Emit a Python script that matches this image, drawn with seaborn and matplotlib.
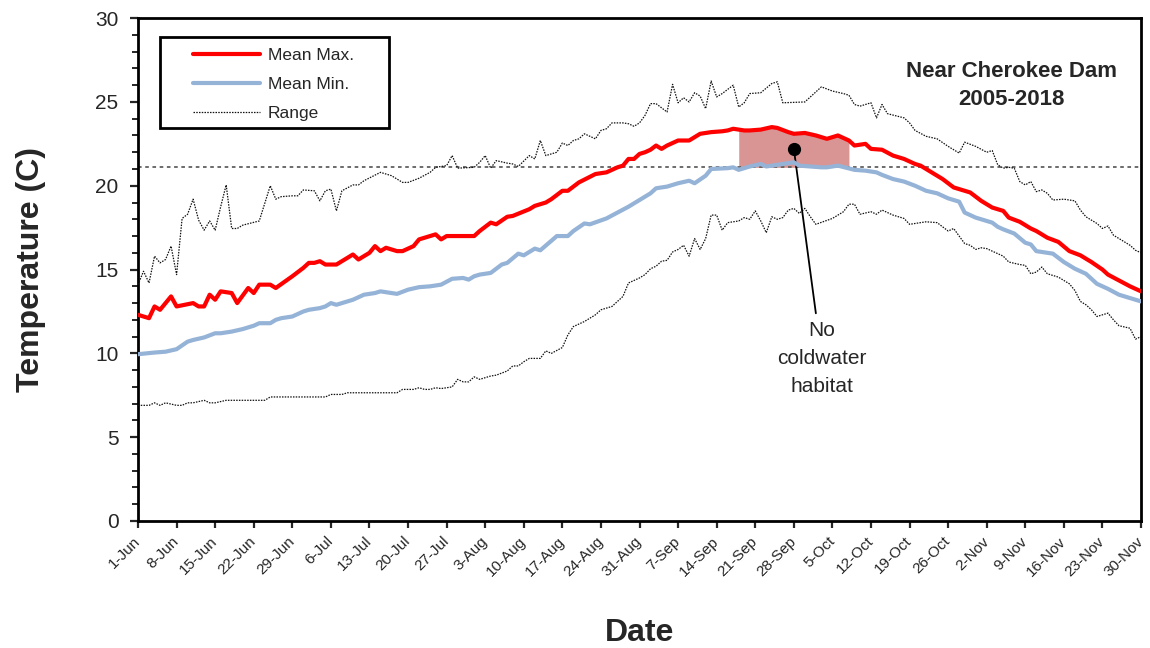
import numpy as np
import pandas as pd
import matplotlib
matplotlib.use("Agg")
import matplotlib.pyplot as plt
import seaborn as sns
from matplotlib.lines import Line2D
from matplotlib.patches import Rectangle

# Days counted from 1-Jun (day 0) to 30-Nov (day 182)
max_days = [0, 2, 3, 4, 6, 7, 10, 11, 12, 13, 14, 15, 17, 18, 20, 21, 22, 24, 25, 28,
            30, 31, 32, 33, 34, 36, 38, 39, 40, 42, 43, 44, 45, 47, 48, 50, 51, 54, 55, 56,
            59, 61, 62, 64, 65, 67, 68, 71, 72, 74, 75, 77, 78, 80, 83, 85, 87, 88, 89, 90,
            91, 92, 93, 94, 95, 96, 98, 100, 102, 104, 106, 107, 108, 110, 111, 113, 115, 116, 118, 119,
            121, 123, 125, 127, 129, 130, 132, 133, 135, 137, 139, 141, 142, 144, 146, 148, 151, 153, 155, 157,
            158, 160, 162, 163, 165, 167, 169, 171, 173, 175, 176, 178, 180, 182]
max_vals = [12.3, 12.1, 12.8, 12.6, 13.4, 12.8, 13.0, 12.8, 12.8, 13.5, 13.2, 13.7, 13.6, 13.0, 13.9, 13.6, 14.1, 14.1, 13.9, 14.6,
            15.1, 15.4, 15.4, 15.5, 15.3, 15.3, 15.7, 15.9, 15.6, 16.0, 16.4, 16.1, 16.3, 16.1, 16.1, 16.4, 16.8, 17.1, 16.8, 17.0,
            17.0, 17.0, 17.3, 17.8, 17.7, 18.15, 18.2, 18.6, 18.8, 19.0, 19.2, 19.7, 19.7, 20.2, 20.7, 20.8, 21.1, 21.2, 21.6, 21.6,
            21.9, 22.0, 22.15, 22.4, 22.2, 22.4, 22.7, 22.7, 23.1, 23.2, 23.25, 23.3, 23.4, 23.3, 23.3, 23.35, 23.5, 23.45, 23.2, 23.1,
            23.15, 23.0, 22.8, 23.0, 22.7, 22.4, 22.5, 22.2, 22.15, 21.8, 21.6, 21.3, 21.2, 20.8, 20.4, 19.9, 19.6, 19.1, 18.7, 18.5,
            18.1, 17.85, 17.45, 17.3, 16.9, 16.65, 16.1, 15.85, 15.45, 15.0, 14.7, 14.35, 14.0, 13.7]

min_days = [0, 3, 5, 7, 9, 10, 12, 14, 15, 17, 19, 21, 22, 24, 25, 26, 28, 30, 31, 33,
            34, 35, 36, 38, 39, 41, 43, 44, 47, 49, 51, 53, 55, 57, 59, 60, 61, 62, 64, 66,
            67, 69, 70, 72, 73, 76, 78, 79, 81, 82, 85, 87, 89, 91, 93, 94, 96, 98, 100, 101,
            103, 104, 107, 108, 109, 111, 113, 114, 116, 119, 120, 122, 124, 125, 127, 130, 132, 134, 135, 137,
            139, 141, 143, 145, 147, 149, 150, 152, 155, 156, 157, 159, 161, 162, 163, 166, 168, 170, 172, 174,
            176, 178, 180, 182]
min_vals = [9.95, 10.05, 10.1, 10.25, 10.7, 10.8, 10.95, 11.2, 11.2, 11.3, 11.45, 11.65, 11.8, 11.8, 12.0, 12.1, 12.2, 12.5, 12.6, 12.7,
            12.8, 13.0, 12.9, 13.1, 13.2, 13.5, 13.6, 13.7, 13.55, 13.8, 13.95, 14.0, 14.1, 14.45, 14.5, 14.4, 14.6, 14.7, 14.8, 15.3,
            15.4, 15.95, 15.85, 16.25, 16.15, 17.0, 17.0, 17.3, 17.75, 17.7, 18.05, 18.4, 18.75, 19.15, 19.55, 19.85, 19.95, 20.15, 20.3, 20.15,
            20.6, 21.0, 21.05, 21.1, 20.95, 21.15, 21.3, 21.15, 21.25, 21.4, 21.2, 21.15, 21.1, 21.1, 21.2, 20.95, 20.9, 20.8, 20.65, 20.4,
            20.25, 20.0, 19.7, 19.55, 19.25, 19.05, 18.4, 18.1, 17.8, 17.55, 17.4, 17.15, 16.6, 16.5, 16.1, 15.95, 15.45, 15.05, 14.75, 14.15,
            13.85, 13.5, 13.3, 13.1]

hi_days = [0, 1, 2, 3, 4, 5, 6, 7, 8, 9, 10, 11, 12, 13, 14, 15, 16, 17, 18, 19,
           22, 23, 24, 25, 26, 28, 29, 30, 32, 33, 34, 35, 36, 37, 39, 40, 41, 44, 46, 48,
           49, 51, 53, 54, 56, 57, 58, 61, 62, 63, 64, 65, 67, 68, 69, 71, 72, 73, 74, 76,
           77, 78, 79, 80, 81, 83, 84, 85, 86, 88, 89, 90, 91, 92, 93, 94, 96, 97, 98, 99,
           100, 101, 102, 103, 104, 105, 106, 108, 109, 110, 111, 113, 115, 116, 117, 121, 123, 124, 126, 128,
           129, 130, 131, 133, 134, 135, 136, 139, 140, 141, 143, 145, 147, 149, 150, 152, 154, 155, 156, 157,
           158, 159, 160, 161, 162, 163, 164, 165, 166, 168, 170, 171, 172, 174, 175, 176, 177, 178, 180, 181,
           182]
hi_vals = [14.1, 14.9, 14.2, 15.8, 15.4, 15.6, 16.4, 14.7, 18.05, 18.3, 19.2, 17.95, 17.35, 17.9, 17.35, 18.75, 20.05, 17.45, 17.45, 17.65,
           17.9, 18.95, 20.0, 19.2, 19.35, 19.4, 19.4, 19.75, 19.7, 19.1, 19.7, 19.8, 18.5, 19.7, 20.05, 20.05, 20.3, 20.8, 20.6, 20.2,
           20.2, 20.45, 20.8, 21.1, 21.2, 21.8, 21.05, 21.1, 21.4, 21.8, 21.05, 21.5, 21.35, 21.3, 21.15, 21.8, 21.6, 22.7, 21.8, 22.0,
           22.55, 22.4, 22.7, 22.8, 23.1, 22.8, 23.3, 23.4, 23.75, 23.75, 23.7, 23.55, 23.75, 24.2, 24.9, 24.9, 24.4, 26.05, 24.95, 25.25,
           25.0, 25.55, 25.35, 24.6, 26.25, 25.3, 25.5, 26.0, 24.7, 24.95, 25.5, 25.55, 26.1, 26.2, 24.95, 25.0, 25.6, 25.9, 25.65, 25.5,
           25.4, 24.85, 24.75, 24.95, 24.05, 24.85, 24.3, 24.05, 23.75, 23.3, 22.95, 22.8, 22.35, 21.95, 22.6, 22.35, 22.0, 22.1, 21.25, 21.05,
           21.1, 21.05, 20.25, 20.05, 20.25, 19.65, 19.75, 19.55, 19.15, 19.2, 19.1, 18.55, 18.15, 17.75, 17.45, 17.6, 17.05, 16.85, 16.45, 16.15,
           16.0]

lo_days = [0, 2, 3, 4, 5, 7, 8, 9, 10, 12, 13, 14, 16, 23, 24, 31, 34, 35, 37, 38,
           47, 48, 50, 51, 52, 53, 54, 55, 57, 58, 59, 60, 61, 62, 64, 65, 67, 68, 69, 70,
           71, 73, 74, 75, 77, 78, 79, 81, 83, 84, 86, 87, 88, 89, 91, 92, 93, 94, 95, 96,
           97, 98, 99, 100, 101, 102, 103, 104, 105, 106, 107, 109, 110, 111, 112, 113, 114, 115, 116, 117,
           118, 119, 120, 121, 122, 123, 126, 128, 129, 130, 131, 133, 134, 135, 137, 139, 140, 143, 145, 147,
           148, 150, 151, 152, 153, 154, 156, 157, 158, 160, 161, 162, 163, 164, 165, 167, 169, 170, 171, 172,
           173, 174, 176, 177, 178, 180, 181, 182]
lo_vals = [6.9, 6.9, 7.05, 6.9, 7.05, 6.9, 6.9, 7.05, 7.05, 7.2, 7.05, 7.05, 7.2, 7.2, 7.4, 7.4, 7.4, 7.55, 7.55, 7.65,
           7.65, 7.85, 7.85, 7.95, 7.85, 7.85, 7.95, 7.9, 8.0, 8.45, 8.3, 8.3, 8.6, 8.45, 8.65, 8.7, 8.95, 9.25, 9.25, 9.5,
           9.7, 9.7, 10.15, 10.0, 10.35, 11.1, 11.6, 11.9, 12.3, 12.6, 12.8, 13.1, 13.4, 14.2, 14.5, 14.7, 15.05, 15.2, 15.5, 15.55,
           16.05, 16.2, 16.45, 15.8, 16.85, 16.2, 16.85, 18.25, 18.25, 17.35, 17.8, 17.9, 18.1, 18.0, 18.5, 17.9, 17.2, 18.15, 18.0, 18.1,
           18.55, 18.65, 18.35, 18.65, 18.15, 17.7, 18.05, 18.45, 18.9, 18.9, 18.3, 18.45, 18.3, 18.55, 18.25, 18.05, 17.7, 17.85, 17.8, 17.3,
           17.45, 16.55, 16.45, 16.2, 16.3, 16.25, 15.95, 15.8, 15.45, 15.3, 15.25, 14.75, 14.85, 15.15, 14.75, 14.55, 14.15, 13.75, 13.1, 12.9,
           12.6, 12.2, 12.4, 12.0, 11.65, 11.5, 10.85, 11.0]

tick_labels = ['1-Jun', '8-Jun', '15-Jun', '22-Jun', '29-Jun', '6-Jul', '13-Jul', '20-Jul', '27-Jul',
               '3-Aug', '10-Aug', '17-Aug', '24-Aug', '31-Aug', '7-Sep', '14-Sep', '21-Sep', '28-Sep',
               '5-Oct', '12-Oct', '19-Oct', '26-Oct', '2-Nov', '9-Nov', '16-Nov', '23-Nov', '30-Nov']

threshold = 21.1          # coldwater habitat limit
no_habitat = (109, 129)   # days where the mean min stays above the limit
note_point = (119, 22.2)
note_text_pos = (124.1, 11.95)

df_max = pd.DataFrame({'day': max_days, 'temp': max_vals})
df_min = pd.DataFrame({'day': min_days, 'temp': min_vals})
df_hi = pd.DataFrame({'day': hi_days, 'temp': hi_vals})
df_lo = pd.DataFrame({'day': lo_days, 'temp': lo_vals})

sns.set_style('ticks')
plt.rcParams['font.family'] = ['Liberation Sans', 'DejaVu Sans']

fig = plt.figure(figsize=(11.5, 6.48), dpi=100)
ax = fig.add_axes([0.12, 0.196, 0.8722, 0.776])

RED = '#FF0000'
BLUE = '#95B3D7'
dots = (0, (1.2, 1.0))

# shaded "no coldwater habitat" window
fill_x = np.arange(no_habitat[0], no_habitat[1] + 1)
fill_top = np.interp(fill_x, df_max['day'], df_max['temp'])
ax.fill_between(fill_x, threshold, fill_top, color='#D99594', lw=0, zorder=1)

ax.axhline(threshold, color='#606060', lw=1.3, linestyle=(0, (2, 2)), zorder=2)

sns.lineplot(data=df_hi, x='day', y='temp', ax=ax, color='#111111', lw=0.9, linestyle=dots, zorder=3)
sns.lineplot(data=df_lo, x='day', y='temp', ax=ax, color='#111111', lw=0.9, linestyle=dots, zorder=3)
sns.lineplot(data=df_min, x='day', y='temp', ax=ax, color=BLUE, lw=3.0, zorder=4)
sns.lineplot(data=df_max, x='day', y='temp', ax=ax, color=RED, lw=3.0, zorder=5)

# annotation
ax.plot(*note_point, 'o', color='black', markersize=8.5, zorder=6)
ax.annotate('No\ncoldwater\nhabitat', xy=note_point, xytext=note_text_pos,
            ha='center', va='top', fontsize=15, linespacing=1.62,
            arrowprops=dict(arrowstyle='-', color='black', lw=1.3, shrinkA=3, shrinkB=0))

ax.text(0.871, 0.866, 'Near Cherokee Dam\n2005-2018', transform=ax.transAxes,
        ha='center', va='center', fontsize=16, fontweight='bold', linespacing=1.43)

# axes
ax.set_xlim(0, 182)
ax.set_ylim(0, 30)
ax.set_xticks(np.arange(0, 183, 7))
ax.set_xticklabels(tick_labels, rotation=45, ha='right', va='center',
                   rotation_mode='anchor', fontsize=11)
ax.set_yticks(np.arange(0, 31, 5))
ax.set_yticks(np.arange(0, 31, 1), minor=True)
ax.tick_params(axis='y', which='major', labelsize=15, length=6, width=1.6, pad=8)
ax.tick_params(axis='y', which='minor', length=4, width=1.4)
ax.tick_params(axis='x', which='major', length=5, width=1.6, pad=8)
for side in ['top', 'right', 'bottom', 'left']:
    ax.spines[side].set_visible(True)
    ax.spines[side].set_linewidth(2.0)
    ax.spines[side].set_color('black')

ax.set_xlabel('Date', fontsize=23, fontweight='bold')
ax.set_ylabel('Temperature (C)', fontsize=23, fontweight='bold')
ax.xaxis.set_label_coords(0.5, -0.193)
ax.yaxis.set_label_coords(-0.092, 0.5)

# legend with a hand drawn frame
handles = [Line2D([], [], color=RED, lw=3.0),
           Line2D([], [], color=BLUE, lw=3.0),
           Line2D([], [], color='#111111', lw=0.9, linestyle=dots)]
ax.legend(handles, ['Mean Max.', 'Mean Min.', 'Range'], loc='upper left',
          bbox_to_anchor=(0.055, 0.94), borderaxespad=0, borderpad=0,
          frameon=False, fontsize=12.5, handlelength=3.85, handletextpad=0.45,
          labelspacing=0.78)
ax.add_patch(Rectangle((0.022, 0.781), 0.228, 0.181, transform=ax.transAxes,
                       fill=False, edgecolor='black', lw=2.0, zorder=7))

fig.savefig('out.png', dpi=100)
